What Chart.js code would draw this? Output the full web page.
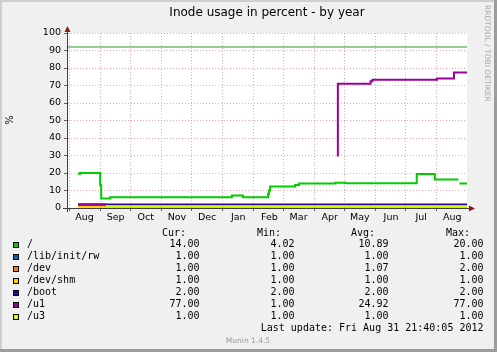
<!DOCTYPE html>
<html>
<head>
<meta charset="utf-8">
<script src="https://cdn.jsdelivr.net/npm/chart.js@4/dist/chart.umd.min.js"></script>
<style>
  html, body { margin: 0; padding: 0; background: #f0f0f0; }
  #wrap { width: 497px; height: 352px; }
</style>
</head>
<body>
<div id="wrap"><canvas id="inodeChart" width="497" height="352"></canvas></div>
<script>
// x values are days counted from 1 Sep 2011
const monthStarts = [-31, 0, 30, 61, 91, 122, 153, 182, 213, 243, 274, 304, 335];
const monthLabels = ['Aug', 'Sep', 'Oct', 'Nov', 'Dec', 'Jan', 'Feb', 'Mar', 'Apr', 'May', 'Jun', 'Jul', 'Aug'];

const seriesNames = ['/', '/lib/init/rw', '/dev', '/dev/shm', '/boot', '/u1', '/u3'];
const seriesColors = ['#00cc00', '#0066b3', '#ff8000', '#ffcc00', '#330099', '#990099', '#ccff00'];
const curVals = ['14.00', '1.00', '1.00', '1.00', '2.00', '77.00', '1.00'];
const minVals = ['4.02', '1.00', '1.00', '1.00', '2.00', '1.00', '1.00'];
const avgVals = ['10.89', '1.00', '1.07', '1.00', '2.00', '24.92', '1.00'];
const maxVals = ['20.00', '1.00', '2.00', '1.00', '2.00', '77.00', '1.00'];

const rootDays = [-22, -20, 0, 1, 10, 131, 142, 167, 168, 169, 194, 198, 234, 244, 315, 333, 356.5, 357, 357.5, 365];
const rootVals = [19.6, 20, 13, 5.5, 6.2, 7.2, 6.2, 8, 10, 12.3, 13.1, 14, 14.4, 14.2, 19.4, 16.3, 16.3, null, 14, 14];
const libDays = [-22, 365];
const libVals = [1, 1];
const devDays = [-22, 5, 365];
const devVals = [2, 1, 1];
const shmDays = [-22, 365];
const shmVals = [1, 1];
const bootDays = [-22, 365];
const bootVals = [2, 2];
const u1Days = [-22, 5, 235, 235.5, 236.5, 269, 271, 335, 352, 365];
const u1Vals = [2, 1, null, 30, 71, 72.5, 73.3, 74, 77.4, 77.4];
const u3Days = [5, 365];
const u3Vals = [1, 1];

const warnDays = [-33, 365];
const warnVals = [92, 92];

const xMin = -33, xMax = 365;

function pts(days, vals) {
    return days.map((d, i) => ({ x: d, y: vals[i] }));
}

const seriesData = [
    pts(rootDays, rootVals),
    pts(libDays, libVals),
    pts(devDays, devVals),
    pts(shmDays, shmVals),
    pts(bootDays, bootVals),
    pts(u1Days, u1Vals),
    pts(u3Days, u3Vals)
];

const datasets = seriesData.map((data, i) => ({
    label: seriesNames[i],
    data: data,
    borderColor: seriesColors[i],
    borderWidth: 2,
    stepped: 'before',
    pointRadius: 0,
    spanGaps: false,
    order: 10 - i
}));
datasets.push({
    label: 'warn',
    data: pts(warnDays, warnVals),
    borderColor: '#2a9a2a',
    borderWidth: 1,
    pointRadius: 0,
    order: 20
});

// background, frame, arrows and the text block under the graph
const munin = {
    id: 'munin',
    beforeDraw(chart) {
        const { ctx, chartArea: a } = chart;
        ctx.save();
        ctx.fillStyle = '#f0f0f0';
        ctx.fillRect(0, 0, 497, 352);
        ctx.fillStyle = '#cfcfcf';
        ctx.fillRect(0, 0, 497, 2);
        ctx.fillRect(0, 0, 2, 352);
        ctx.fillStyle = '#9c9c9c';
        ctx.fillRect(494, 0, 3, 352);
        ctx.fillRect(0, 349, 497, 3);
        ctx.fillStyle = '#ffffff';
        ctx.fillRect(a.left, a.top, a.right - a.left, a.bottom - a.top);
        ctx.restore();
    },
    afterDraw(chart) {
        const { ctx, chartArea: a } = chart;
        ctx.save();
        // axis extensions and arrows
        ctx.strokeStyle = '#404040';
        ctx.lineWidth = 1;
        ctx.beginPath();
        ctx.moveTo(a.left + 0.5, a.bottom + 4);
        ctx.lineTo(a.left + 0.5, a.top - 4);
        ctx.moveTo(a.left - 4, a.bottom + 0.5);
        ctx.lineTo(a.right + 4, a.bottom + 0.5);
        ctx.stroke();
        ctx.fillStyle = '#8b1a1a';
        ctx.beginPath();
        ctx.moveTo(a.left + 0.5, a.top - 7);
        ctx.lineTo(a.left - 2.5, a.top - 1);
        ctx.lineTo(a.left + 3.5, a.top - 1);
        ctx.closePath();
        ctx.fill();
        ctx.beginPath();
        ctx.moveTo(a.right + 8, a.bottom + 0.5);
        ctx.lineTo(a.right + 2, a.bottom - 2.5);
        ctx.lineTo(a.right + 2, a.bottom + 3.5);
        ctx.closePath();
        ctx.fill();

        // title
        ctx.fillStyle = '#000';
        ctx.font = '12px "DejaVu Sans"';
        ctx.textAlign = 'center';
        ctx.textBaseline = 'middle';
        ctx.fillText('Inode usage in percent - by year', (a.left + a.right) / 2, 13);

        // y axis title
        ctx.save();
        ctx.translate(10, 120);
        ctx.rotate(-Math.PI / 2);
        ctx.font = '10px "DejaVu Sans"';
        ctx.fillText('%', 0, 0);
        ctx.restore();

        // rrdtool watermark
        ctx.save();
        ctx.translate(487, 5);
        ctx.rotate(Math.PI / 2);
        ctx.fillStyle = '#a8a8a8';
        ctx.font = '7.5px "DejaVu Sans"';
        ctx.textAlign = 'left';
        ctx.fillText('RRDTOOL / TOBI OETIKER', 0, 0);
        ctx.restore();

        // legend table
        ctx.font = '10px "DejaVu Sans Mono"';
        ctx.textBaseline = 'middle';
        ctx.textAlign = 'right';
        const heads = ['Cur:', 'Min:', 'Avg:', 'Max:'];
        const headX = [186, 281, 375, 470];
        heads.forEach((h, i) => ctx.fillText(h, headX[i], 233.5));
        const colX = [199.5, 294.5, 388.5, 483.5];
        const cols = [curVals, minVals, avgVals, maxVals];
        seriesNames.forEach((name, i) => {
            const y = 244.5 + i * 12.05;
            ctx.fillStyle = seriesColors[i];
            ctx.fillRect(13, Math.round(y) - 3, 6, 6);
            ctx.strokeStyle = '#000';
            ctx.strokeRect(13.5, Math.round(y) - 2.5, 5, 5);
            ctx.fillStyle = '#000';
            ctx.textAlign = 'left';
            ctx.fillText(name, 27, y);
            ctx.textAlign = 'right';
            cols.forEach((c, j) => ctx.fillText(c[i], colX[j], y));
        });
        ctx.fillText('Last update: Fri Aug 31 21:40:05 2012', 483.5, 328.7);

        ctx.fillStyle = '#9a9a9a';
        ctx.font = '7.5px "DejaVu Sans"';
        ctx.textAlign = 'center';
        ctx.fillText('Munin 1.4.5', 248, 340.7);
        ctx.restore();
    }
};

new Chart(document.getElementById('inodeChart'), {
    type: 'line',
    data: { datasets },
    options: {
        responsive: false,
        animation: false,
        events: [],
        layout: { padding: { top: 33, right: 30, left: 0, bottom: 0 } },
        plugins: {
            legend: { display: false },
            title: { display: false },
            tooltip: { enabled: false }
        },
        scales: {
            x: {
                type: 'linear',
                min: xMin,
                max: xMax,
                afterBuildTicks: scale => {
                    scale.ticks = monthStarts.map(v => ({ value: v }));
                },
                afterFit: scale => { scale.height = 144; },
                grid: {
                    color: 'rgba(240, 90, 90, 0.55)',
                    lineWidth: 1,
                    tickLength: 3,
                    tickColor: '#606060'
                },
                border: { display: true, color: '#404040', dash: [1, 2] },
                ticks: {
                    autoSkip: false,
                    maxRotation: 0,
                    padding: 1,
                    labelOffset: 15.5,
                    color: '#000',
                    font: { family: 'DejaVu Sans', size: 9.5 },
                    callback: (v, i) => monthLabels[i]
                }
            },
            y: {
                min: 0,
                max: 100,
                afterFit: scale => { scale.width = 67; },
                grid: {
                    color: ctx => ctx.tick && ctx.tick.value % 10 === 0
                        ? 'rgba(240, 90, 90, 0.55)' : 'rgba(150, 150, 150, 0.5)',
                    lineWidth: 1,
                    tickLength: 3,
                    tickColor: '#606060'
                },
                border: { display: true, color: '#404040', dash: [1, 2] },
                ticks: {
                    stepSize: 5,
                    padding: 3,
                    color: '#000',
                    font: { family: 'DejaVu Sans', size: 9.5 },
                    callback: v => v % 10 === 0 ? String(v) : ''
                }
            }
        }
    },
    plugins: [munin]
});
</script>
</body>
</html>
